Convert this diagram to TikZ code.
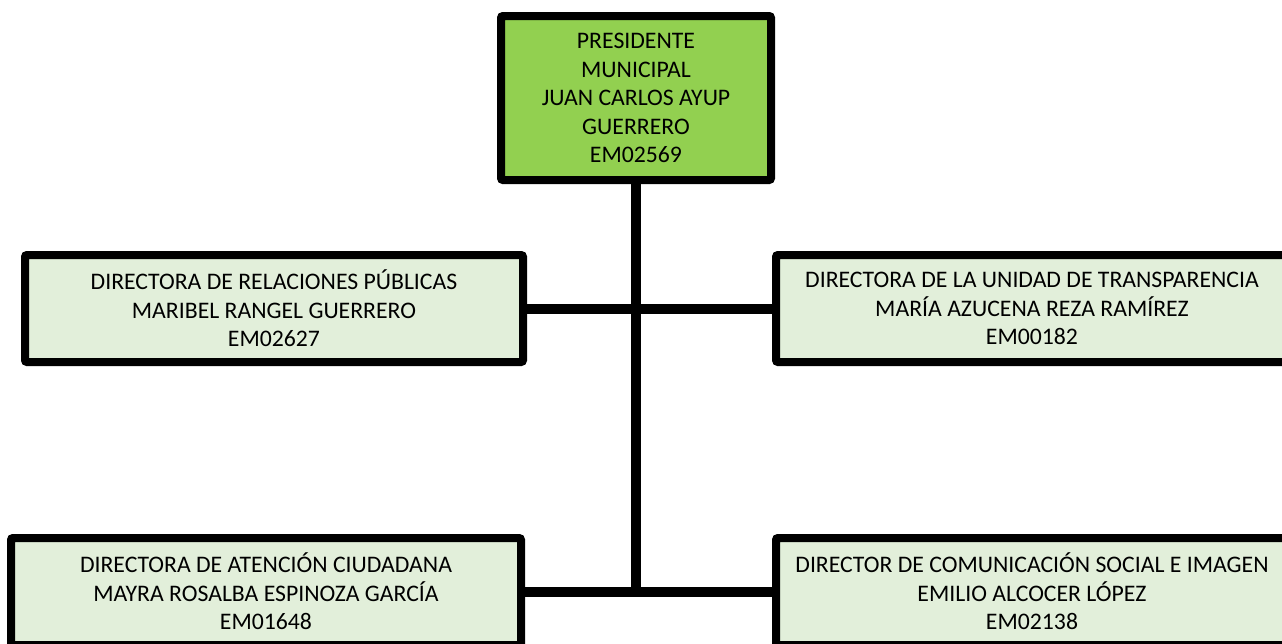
\documentclass[tikz,border=0pt]{standalone}
\usepackage{fontspec}
\setmainfont{Carlito}
\definecolor{topgreen}{HTML}{92D050}
\definecolor{lightgreen}{HTML}{E2EFDA}
\begin{document}
\begin{tikzpicture}[x=0.75pt,y=-0.75pt,
  box/.style={draw=black, line width=6pt, rounded corners=1.5pt, inner sep=0pt,
    align=center, font=\fontsize{17.8}{21.4}\selectfont, fill=lightgreen,
    minimum height=80.25pt},
  topbox/.style={box, fill=topgreen, minimum width=202.5pt, minimum height=123pt},
  conn/.style={draw=black, line width=7.5pt}]
\useasboundingbox (0,0) rectangle (1282,643);
\clip (0,0) rectangle (1282,643);
\node[topbox] (top) at (636,98) {PRESIDENTE\\MUNICIPAL\\JUAN CARLOS AYUP\\GUERRERO\\EM02569};
\node[box, minimum width=373.5pt] (ml) at (274,308.5) {DIRECTORA DE RELACIONES PÚBLICAS\\MARIBEL RANGEL GUERRERO\\EM02627};
\node[box, minimum width=384pt] (mr) at (1032,308.5) {DIRECTORA DE LA UNIDAD DE TRANSPARENCIA\\MARÍA AZUCENA REZA RAMÍREZ\\EM00182};
\node[box, minimum width=382.5pt] (bl) at (266,591.5) {DIRECTORA DE ATENCIÓN CIUDADANA\\MAYRA ROSALBA ESPINOZA GARCÍA\\EM01648};
\node[box, minimum width=384pt] (br) at (1032,591.5) {DIRECTOR DE COMUNICACIÓN SOCIAL E IMAGEN\\EMILIO ALCOCER LÓPEZ\\EM02138};
\coordinate (j2) at (636,595);
\draw[conn] ([yshift=2pt]top.south) -- (j2);
\draw[conn] ([xshift=-2pt]ml.east) -- ([xshift=2pt]mr.west);
\draw[conn] ([xshift=-2pt]bl.east) -- ([xshift=2pt]br.west);
\end{tikzpicture}
\end{document}
